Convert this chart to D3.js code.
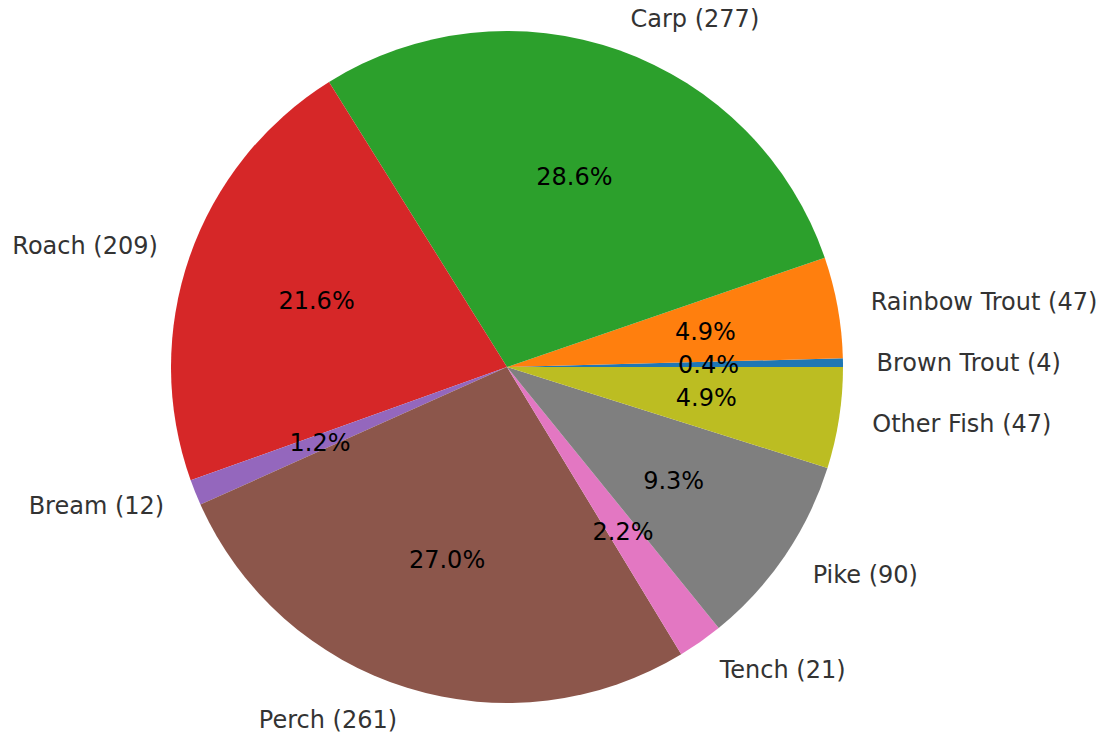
<!DOCTYPE html>
<html>
<head>
<meta charset="utf-8">
<script src="https://cdn.jsdelivr.net/npm/d3@7"></script>
<style>
  body { margin: 0; background: #fff; }
  svg { display: block; }
  text { font-family: "DejaVu Sans", sans-serif; }
</style>
</head>
<body>
<div class="chart"></div>
<script>
var width = 1099,
    height = 734;

// data, in matplotlib order (counter-clockwise from 3 o'clock)
var fish = ["Brown Trout", "Rainbow Trout", "Carp", "Roach", "Bream", "Perch", "Tench", "Pike", "Other Fish"];
var counts = [4, 47, 277, 209, 12, 261, 21, 90, 47];
var colors = ["#1f77b4", "#ff7f0e", "#2ca02c", "#d62728", "#9467bd", "#8c564b", "#e377c2", "#7f7f7f", "#bcbd22"];

var cx = 507,
    cy = 367,
    radius = 336;

var total = d3.sum(counts);

var data = fish.map(function(name, i) {
    return { name: name, value: counts[i], color: colors[i] };
});

// d3 angles run clockwise from 12 o'clock, so start at pi/2 and go backwards
var pie = d3.pie()
    .value(function(d) { return d.value; })
    .sort(null)
    .startAngle(Math.PI / 2)
    .endAngle(Math.PI / 2 - 2 * Math.PI);

var arc = d3.arc()
    .innerRadius(0)
    .outerRadius(radius);

var svg = d3.select('.chart').append("svg")
    .attr("width", width)
    .attr("height", height);

var g = svg.append("g")
    .attr("transform", "translate(" + cx + "," + cy + ")");

var arcs = pie(data);

g.selectAll("path")
    .data(arcs)
    .enter().append("path")
    .attr("d", arc)
    .attr("fill", function(d) { return d.data.color; });

function mid(d) {
    return (d.startAngle + d.endAngle) / 2;
}

// outer labels at 1.1 r
g.selectAll("text.label")
    .data(arcs)
    .enter().append("text")
    .attr("class", "label")
    .attr("x", function(d) { return Math.sin(mid(d)) * radius * 1.1; })
    .attr("y", function(d) { return -Math.cos(mid(d)) * radius * 1.1; })
    .attr("dy", "0.35em")
    .attr("text-anchor", function(d) { return Math.sin(mid(d)) > 0 ? "start" : "end"; })
    .style("font-size", "24px")
    .style("fill", "#333")
    .text(function(d) { return d.data.name + " (" + d.data.value + ")"; });

// percentages at 0.6 r
g.selectAll("text.pct")
    .data(arcs)
    .enter().append("text")
    .attr("class", "pct")
    .attr("x", function(d) { return Math.sin(mid(d)) * radius * 0.6; })
    .attr("y", function(d) { return -Math.cos(mid(d)) * radius * 0.6; })
    .attr("dy", "0.35em")
    .attr("text-anchor", "middle")
    .style("font-size", "24px")
    .style("fill", "#000")
    .text(function(d) { return (d.data.value / total * 100).toFixed(1) + "%"; });
</script>
</body>
</html>
